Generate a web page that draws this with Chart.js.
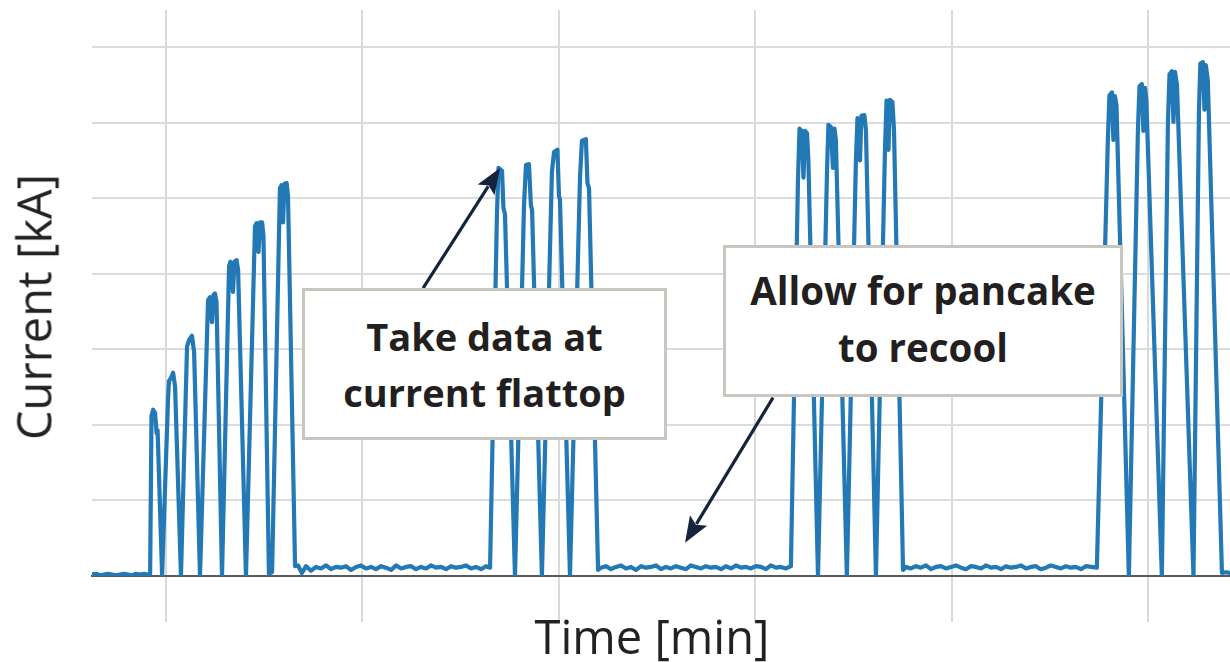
<!DOCTYPE html>
<html>
<head>
<meta charset="utf-8">
<script src="https://cdn.jsdelivr.net/npm/chart.js@4.4.1/dist/chart.umd.min.js"></script>
<style>
html,body{margin:0;padding:0;background:#fff;}
#wrap{position:relative;width:1230px;height:662px;overflow:hidden;background:#fff;}
#c{position:absolute;left:0;top:0;}
.ttl{position:absolute;font-family:"Open Sans",sans-serif;font-size:47px;line-height:47px;color:#222;white-space:nowrap;}
#xt{left:652px;top:613px;transform:translateX(-50%);}
#yt{left:34px;top:307px;transform:translate(-50%,-50%) rotate(-90deg);}
.box{position:absolute;box-sizing:border-box;border:3px solid #c9c5bf;background:#fff;display:flex;flex-direction:column;justify-content:center;align-items:center;font-family:"Open Sans",sans-serif;font-weight:700;font-size:38px;color:#231f20;white-space:nowrap;}
#b1{left:302px;top:288px;width:365px;height:152px;line-height:56px;}
#b2{left:723px;top:245px;width:400px;height:152px;line-height:57px;font-size:38.5px;padding-bottom:4px;}
</style>
</head>
<body>
<div id="wrap">
<canvas id="c" width="1230" height="662"></canvas>
<div class="ttl" id="xt">Time [min]</div>
<div class="ttl" id="yt">Current [kA]</div>
<div class="box" id="b1"><div>Take data at</div><div>current flattop</div></div>
<div class="box" id="b2"><div>Allow for pancake</div><div>to recool</div></div>
</div>
<script>
// ---- data (time in minutes, current in kA) ----
const baseA_t = [6.23,6.44,6.64,6.84,7.05,7.25,7.45,7.66,7.86,8.07,8.27,8.47,8.68,8.88,9.03];
const baseA_i = [0.02,0.03,0.01,0.02,0.03,0.02,0.01,0.02,0.03,0.02,0.01,0.03,0.02,0.03,0.02];

const pulses1_t = [9.19,9.26,9.34,9.44,9.52,9.57,9.80,
  10.10,10.15,10.25,10.36,10.46,10.76,
  11.07,11.17,11.32,11.43,11.73,
  12.14,12.24,12.34,12.42,12.49,12.57,12.85,
  13.21,13.28,13.41,13.49,13.59,13.67,14.07,
  14.53,14.61,14.71,14.79,14.89,14.96,15.24,15.40,
  15.80,15.88,15.96,16.03,16.14,16.21,16.57];
const pulses1_i = [0.03,2.12,2.20,2.16,1.89,1.93,0.01,
  2.33,2.58,2.62,2.69,2.51,0.00,
  3.04,3.12,3.18,2.96,0.00,
  3.65,3.69,3.36,3.72,3.74,3.63,0.00,
  4.10,4.16,3.76,4.16,4.18,4.05,0.00,
  4.63,4.67,4.29,4.68,4.68,4.51,0.03,0.05,
  5.13,5.17,4.68,5.19,5.20,5.03,0.13];

const baseB_t = [16.72,16.92,17.13,17.38,17.64,17.89,18.15,18.40,18.66,18.91,19.16,19.42,19.67,19.93,20.18,20.44,20.69,20.95,21.20,21.46,
  21.71,21.97,22.22,22.47,22.73,22.98,23.24,23.49,23.75,24.00,24.26,24.51,24.77,25.02,25.27,25.53,25.78,26.04,26.29,26.50];
const baseB_i = [0.14,0.04,0.13,0.07,0.12,0.10,0.14,0.09,0.12,0.11,0.13,0.08,0.12,0.14,0.10,0.12,0.09,0.13,0.11,0.08,
  0.14,0.10,0.12,0.13,0.09,0.12,0.10,0.14,0.11,0.12,0.09,0.13,0.11,0.12,0.14,0.10,0.12,0.09,0.13,0.11];

const pulses2_t = [26.85,26.93,27.11,27.18,27.26,27.77,
  28.23,28.33,28.48,28.58,28.64,29.14,
  29.65,29.76,29.93,30.01,30.06,30.57,
  31.08,31.18,31.38,31.46,31.54,32.00];
const pulses2_i = [4.78,5.40,5.36,4.87,4.79,0.00,
  4.91,5.44,5.45,4.91,4.84,0.00,
  5.35,5.61,5.64,5.03,4.98,0.00,
  5.27,5.76,5.78,5.20,5.13,0.08];

const baseC_t = [32.15,32.40,32.66,32.91,33.17,33.42,33.68,33.93,34.19,34.44,34.69,34.95,35.20,35.46,35.71,35.97,36.22,36.48,36.73,36.99,
  37.24,37.49,37.75,38.00,38.26,38.51,38.77,39.02,39.28,39.53,39.79,40.04,40.30,40.55,40.80,41.06,41.31,41.57,41.82];
const baseC_i = [0.11,0.13,0.09,0.12,0.14,0.10,0.12,0.08,0.13,0.11,0.12,0.14,0.09,0.12,0.10,0.13,0.11,0.09,0.14,0.12,
  0.10,0.13,0.11,0.12,0.09,0.13,0.10,0.14,0.11,0.12,0.10,0.13,0.12,0.09,0.14,0.11,0.12,0.10,0.13];

const pulses3_t = [42.18,42.26,42.38,42.46,42.54,42.64,42.71,43.20,
  43.66,43.73,43.86,43.96,44.04,44.11,44.67,
  45.13,45.21,45.34,45.41,45.56,45.64,46.15,
  46.61,46.69,46.79,46.86,46.99,47.07,47.53];
const pulses3_i = [5.24,5.92,5.89,5.27,5.89,5.86,5.50,0.00,
  5.37,5.97,5.94,5.40,5.92,5.77,0.00,
  5.50,6.06,5.50,6.09,6.10,5.90,0.00,
  5.64,6.29,5.64,6.30,6.27,5.90,0.08];

const baseD_t = [47.68,47.93,48.19,48.44,48.70,48.95,49.21,49.46,49.71,49.97,50.22,50.48,50.73,50.99,51.24,51.50,51.75,52.01,52.26,52.52,
  52.77,53.02,53.28,53.53,53.79,54.04,54.30,54.55,54.81,55.06,55.32,55.57,55.83,56.08,56.33,56.59,56.84,57.10,57.40];
const baseD_i = [0.12,0.10,0.13,0.11,0.14,0.09,0.12,0.13,0.10,0.12,0.14,0.11,0.09,0.13,0.12,0.10,0.14,0.11,0.12,0.09,
  0.13,0.11,0.12,0.14,0.10,0.12,0.13,0.09,0.11,0.14,0.12,0.10,0.13,0.11,0.12,0.09,0.13,0.12,0.11];

const pulses4_t = [57.96,58.04,58.17,58.24,58.32,58.40,59.03,
  59.49,59.57,59.69,59.77,59.85,59.92,60.71,
  61.02,61.10,61.22,61.30,61.38,61.48,62.32,
  62.60,62.67,62.80,62.88,62.95,63.05,63.77,63.97,64.18];
const pulses4_i = [5.77,6.36,6.40,5.77,6.35,6.23,0.00,
  5.89,6.48,6.51,5.89,6.46,6.30,0.00,
  6.01,6.64,6.68,6.01,6.67,6.50,0.00,
  6.17,6.78,6.80,6.17,6.76,6.56,0.04,0.05,0.04];

// axis ranges and grid ticks (no tick labels shown)
const X_MIN = 6.23, X_MAX = 64.18;
const Y_MIN = 0, Y_MAX = 7.49;
const xGridTicks = [10,20,30,40,50,60];
const yGridTicks = [0,1,2,3,4,5,6,7];

// callout arrows in data coordinates [time, current]
const arrows = [
  {from:[23.09,3.81], to:[27.01,5.40]},
  {from:[40.91,2.36], to:[36.43,0.44]}
];

const timeMin = [].concat(baseA_t,pulses1_t,baseB_t,pulses2_t,baseC_t,pulses3_t,baseD_t,pulses4_t);
const currentKA = [].concat(baseA_i,pulses1_i,baseB_i,pulses2_i,baseC_i,pulses3_i,baseD_i,pulses4_i);
const points = timeMin.map((t,k)=>({x:t,y:currentKA[k]}));

const arrowPlugin = {
  id:'callouts',
  afterDatasetsDraw(chart){
    const ctx = chart.ctx, xs = chart.scales.x, ys = chart.scales.y;
    arrows.forEach(a=>{
      const x1 = xs.getPixelForValue(a.from[0]), y1 = ys.getPixelForValue(a.from[1]);
      const x2 = xs.getPixelForValue(a.to[0]), y2 = ys.getPixelForValue(a.to[1]);
      const ang = Math.atan2(y2-y1, x2-x1);
      const hl = 26, hw = 10;
      const bx = x2 - hl*Math.cos(ang), by = y2 - hl*Math.sin(ang);
      ctx.save();
      ctx.strokeStyle = '#15243c'; ctx.fillStyle = '#15243c';
      ctx.lineWidth = 3.2; ctx.lineCap = 'butt';
      ctx.beginPath(); ctx.moveTo(x1,y1); ctx.lineTo(bx+4*Math.cos(ang),by+4*Math.sin(ang)); ctx.stroke();
      ctx.beginPath();
      ctx.moveTo(x2,y2);
      ctx.lineTo(bx + hw*Math.sin(ang), by - hw*Math.cos(ang));
      ctx.lineTo(bx + 5*Math.cos(ang), by + 5*Math.sin(ang));
      ctx.lineTo(bx - hw*Math.sin(ang), by + hw*Math.cos(ang));
      ctx.closePath(); ctx.fill();
      ctx.restore();
    });
  }
};

new Chart(document.getElementById('c'), {
  type:'line',
  data:{datasets:[{
    data:points,
    borderColor:'#2279b5',
    borderWidth:4.2,
    borderJoinStyle:'round',
    borderCapStyle:'round',
    pointRadius:0,
    tension:0,
    fill:false
  }]},
  options:{
    responsive:false,
    animation:false,
    devicePixelRatio:1,
    layout:{padding:{top:10,left:0,right:0,bottom:0}},
    plugins:{legend:{display:false},tooltip:{enabled:false},title:{display:false}},
    scales:{
      x:{
        type:'linear', min:X_MIN, max:X_MAX,
        afterBuildTicks:s=>{ s.ticks = xGridTicks.map(v=>({value:v})); },
        afterFit:s=>{ s.height = 86; },
        ticks:{display:false},
        grid:{color:'#dadada', lineWidth:2, drawTicks:true, tickLength:46, tickColor:'#dadada'},
        border:{display:true, color:'#5a5a5a', width:2}
      },
      y:{
        type:'linear', min:Y_MIN, max:Y_MAX,
        afterBuildTicks:s=>{ s.ticks = yGridTicks.map(v=>({value:v})); },
        afterFit:s=>{ s.width = 92; },
        ticks:{display:false},
        grid:{color:c=>(c.tick && c.tick.value===0) ? '#5a5a5a' : '#dcdcdc', lineWidth:2, drawTicks:false},
        border:{display:false}
      }
    }
  },
  plugins:[arrowPlugin]
});
</script>
</body>
</html>
